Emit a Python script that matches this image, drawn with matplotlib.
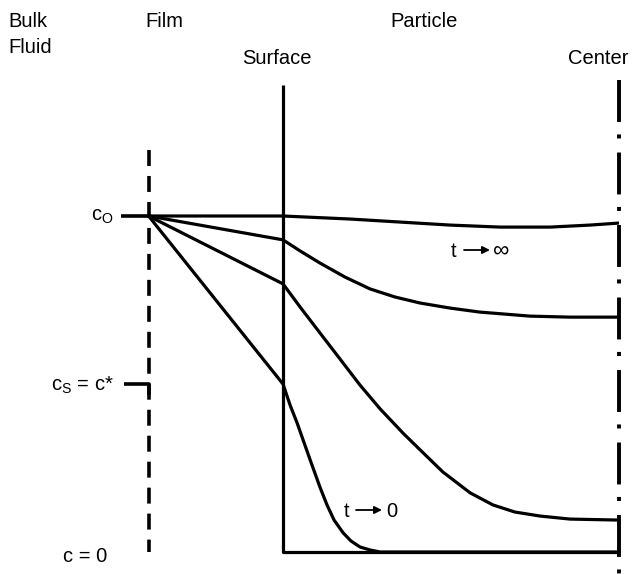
import matplotlib
matplotlib.use("Agg")
import matplotlib.pyplot as plt

plt.rcParams['font.family'] = ['Liberation Sans', 'DejaVu Sans']
plt.rcParams['mathtext.fontset'] = 'custom'
plt.rcParams['mathtext.rm'] = 'Liberation Sans'
plt.rcParams['mathtext.it'] = 'Liberation Sans'
plt.rcParams['lines.scale_dashes'] = False

# --- data: position (surface = 0, center = 1), concentration c/c0 ---
film_edge = -0.4
bulk_start = -0.482
c_bulk = 1.0
c_star = 0.5

# profiles inside the particle, from surface to center
r_inf = [0.0, 0.199, 0.348, 0.497, 0.646, 0.795, 0.914, 1.0]
c_inf = [1.0, 0.991, 0.982, 0.973, 0.967, 0.967, 0.973, 0.979]

r_mid1 = [0.0, 0.051, 0.110, 0.185, 0.259, 0.333, 0.408, 0.497, 0.586, 0.735, 0.854, 1.0]
c_mid1 = [0.929, 0.896, 0.860, 0.818, 0.783, 0.759, 0.741, 0.726, 0.714, 0.702, 0.699, 0.699]

r_mid2 = [0.0, 0.051, 0.110, 0.170, 0.229, 0.289, 0.357, 0.408, 0.476, 0.557,
          0.625, 0.690, 0.765, 0.854, 1.0]
c_mid2 = [0.798, 0.729, 0.652, 0.574, 0.497, 0.426, 0.354, 0.304, 0.238, 0.176,
          0.140, 0.119, 0.107, 0.098, 0.095]

r_zero = [0.0, 0.021, 0.042, 0.060, 0.083, 0.110, 0.131, 0.152, 0.179, 0.202,
          0.229, 0.259, 0.289, 1.0]
c_zero = [0.5, 0.4375, 0.384, 0.333, 0.268, 0.193, 0.140, 0.095, 0.057, 0.033,
          0.015, 0.006, 0.0, 0.0]

profiles = [(r_inf, c_inf), (r_mid1, c_mid1), (r_mid2, c_mid2), (r_zero, c_zero)]

# frame lines
surface_x = [0.0, 0.0, 1.0]
surface_y = [1.39, 0.0, 0.0]
center_x = [1.0, 1.0]
center_y = [1.405, -0.08]
film_x = [film_edge, film_edge]
film_y = [1.196, 0.0]
cs_x = [-0.473, film_edge, film_edge]
cs_y = [c_star, c_star, 0.467]

W, H = 635, 574
fig = plt.figure(figsize=(W / 100, H / 100), dpi=100, facecolor='white')
ax = fig.add_axes([0, 0, 1, 1])
ax.set_xlim(-283 / 336, 352 / 336)
ax.set_ylim(-22 / 336, 552 / 336)
ax.axis('off')

k = dict(color='black', solid_capstyle='butt', solid_joinstyle='round')

ax.plot(surface_x, surface_y, lw=2.3, **k)
ax.plot(center_x, center_y, lw=2.8, color='black', dash_capstyle='butt',
        linestyle=(0, (30.2, 9.0, 2.9, 10.1)))
ax.plot(film_x, film_y, lw=2.6, color='black', dash_capstyle='butt',
        linestyle=(0, (11.5, 7.2)))
ax.plot([bulk_start, film_edge], [c_bulk, c_bulk], lw=2.6, **k)
ax.plot(cs_x, cs_y, lw=2.6, **k)

for r, c in profiles:
    ax.plot([film_edge] + r, [c_bulk] + c, lw=2.3, **k)


def px(x, y):
    return x / W, 1 - y / H


fs = 14.5
fig.text(*px(8, 27), "Bulk", fontsize=fs, va='baseline')
fig.text(*px(8, 53), "Fluid", fontsize=fs, va='baseline')
fig.text(*px(145, 27), "Film", fontsize=fs, va='baseline')
fig.text(*px(390, 27), "Particle", fontsize=fs, va='baseline')
fig.text(*px(242, 64), "Surface", fontsize=fs, va='baseline')
fig.text(*px(568, 64), "Center", fontsize=fs, va='baseline')

fig.text(*px(114, 221), r"c$_{\mathrm{O}}$", fontsize=fs, ha='right', va='baseline')
fig.text(*px(114, 391), r"c$_{\mathrm{S}}$ = c*", fontsize=fs, ha='right', va='baseline')
fig.text(*px(107, 562), "c = 0", fontsize=fs, ha='right', va='baseline')

# time labels: "t", arrow, limit
fig.text(*px(451, 257), "t", fontsize=fs, va='baseline')
fig.text(*px(493, 257), "\u221e", fontsize=fs + 2, va='baseline')
fig.text(*px(344, 517), "t", fontsize=fs, va='baseline')
fig.text(*px(386, 517), "0", fontsize=fs, va='baseline')
for x0, x1, y in [(464, 490, 250), (356, 382, 510)]:
    fig.add_artist(plt.Annotation('', xy=(x1, H - y), xytext=(x0, H - y),
                                  xycoords='figure pixels', textcoords='figure pixels',
                                  arrowprops=dict(arrowstyle='-|>', color='black',
                                                  lw=1.3, mutation_scale=11,
                                                  shrinkA=0, shrinkB=0)))

fig.savefig("out.png", dpi=100, facecolor='white')
